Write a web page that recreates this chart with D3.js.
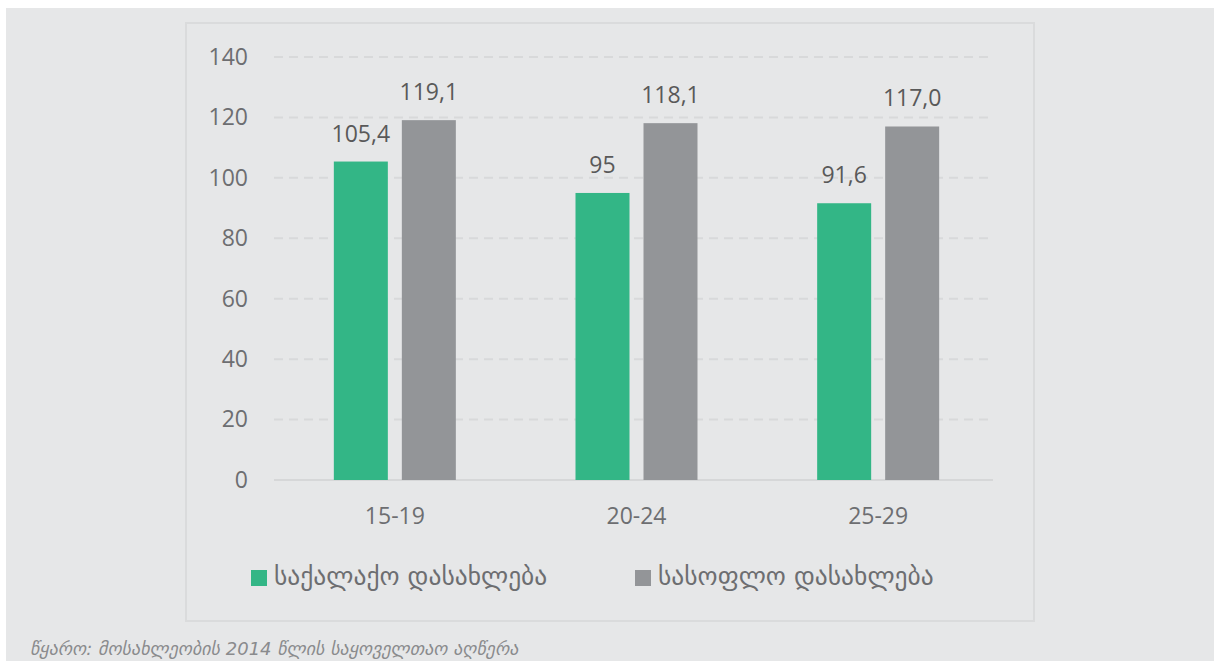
<!DOCTYPE html>
<html>
<head>
<meta charset="utf-8">
<script src="https://d3js.org/d3.v7.min.js"></script>
<style>
  html, body { margin: 0; padding: 0; background: #ffffff; }
  svg { display: block; }
</style>
</head>
<body>
<script>
// age groups and the two settlement series
const categories = ['15-19', '20-24', '25-29'];
const seriesNames = ['საქალაქო დასახლება', 'სასოფლო დასახლება'];
const urban = [105.4, 95, 91.6];
const rural = [119.1, 118.1, 117.0];
const urbanLabels = ['105,4', '95', '91,6'];
const ruralLabels = ['119,1', '118,1', '117,0'];
const yTicks = [0, 20, 40, 60, 80, 100, 120, 140];
const sourceNote = 'წყარო: მოსახლეობის 2014 წლის საყოველთაო აღწერა';

const W = 1214, H = 661;
const colors = ['#33b686', '#939598'];
const font = "'Open Sans', 'DejaVu Sans', sans-serif";

const svg = d3.select('body').append('svg')
  .attr('width', W)
  .attr('height', H);

// page background + chart panel
svg.append('rect').attr('x', 6).attr('y', 8).attr('width', W - 6).attr('height', H - 8)
  .attr('fill', '#e6e7e8');
svg.append('rect').attr('x', 186).attr('y', 23).attr('width', 848).attr('height', 598)
  .attr('fill', '#e6e7e8').attr('stroke', '#dadbdc').attr('stroke-width', 2);

const plot = { left: 274, right: 999, top: 57, bottom: 480 };

const x = d3.scaleBand().domain(categories).range([plot.left, plot.right]).padding(0);
const y = d3.scaleLinear().domain([0, 140]).range([plot.bottom, plot.top]);

// dashed gridlines
svg.append('g')
  .selectAll('line')
  .data(yTicks.filter(d => d > 0))
  .join('line')
  .attr('x1', plot.left).attr('x2', plot.right - 6)
  .attr('y1', d => y(d)).attr('y2', d => y(d))
  .attr('stroke', '#d8d9da').attr('stroke-width', 2)
  .attr('stroke-dasharray', '9,6');

// baseline
svg.append('line')
  .attr('x1', plot.left).attr('x2', plot.right - 6)
  .attr('y1', y(0)).attr('y2', y(0))
  .attr('stroke', '#d6d7d8').attr('stroke-width', 2);

// y axis labels
const yAxis = d3.axisLeft(y).tickValues(yTicks).tickSize(0).tickPadding(0);
svg.append('g')
  .attr('transform', `translate(${248},0)`)
  .call(yAxis)
  .call(g => g.select('.domain').remove())
  .call(g => g.selectAll('text')
    .attr('font-family', font).attr('font-size', 23).attr('fill', '#6d6e71'));

// x axis labels
const xAxis = d3.axisBottom(x).tickSize(0).tickPadding(0);
svg.append('g')
  .attr('transform', `translate(0,${508})`)
  .call(xAxis)
  .call(g => g.select('.domain').remove())
  .call(g => g.selectAll('text')
    .attr('font-family', font).attr('font-size', 23).attr('fill', '#6d6e71'));

// bars
const barW = 54, gap = 14;
const inner = d3.scaleOrdinal().domain([0, 1]).range([-(gap / 2 + barW), gap / 2]);
const series = [
  { values: urban, labels: urbanLabels },
  { values: rural, labels: ruralLabels }
];

series.forEach((s, si) => {
  const g = svg.append('g');
  g.selectAll('rect')
    .data(categories)
    .join('rect')
    .attr('x', (c, i) => x(c) + x.bandwidth() / 2 + inner(si))
    .attr('y', (c, i) => y(s.values[i]))
    .attr('width', barW)
    .attr('height', (c, i) => y(0) - y(s.values[i]))
    .attr('fill', colors[si]);
  g.selectAll('text')
    .data(categories)
    .join('text')
    .attr('x', (c, i) => x(c) + x.bandwidth() / 2 + inner(si) + barW / 2)
    .attr('y', (c, i) => y(s.values[i]) - 20)
    .attr('text-anchor', 'middle')
    .attr('font-family', font).attr('font-size', 23)
    .attr('fill', '#595959')
    .text((c, i) => s.labels[i]);
});

// legend
const legendX = [251, 635];
const legend = svg.append('g');
seriesNames.forEach((name, i) => {
  legend.append('rect')
    .attr('x', legendX[i]).attr('y', 570)
    .attr('width', 16).attr('height', 16)
    .attr('fill', colors[i]);
  legend.append('text')
    .attr('x', legendX[i] + 23).attr('y', 585)
    .attr('font-family', "'DejaVu Sans', sans-serif").attr('font-size', 25.5)
    .attr('fill', '#6d6e71')
    .text(name);
});

// source note
svg.append('text')
  .attr('x', 30).attr('y', 655)
  .attr('font-family', "'DejaVu Sans', sans-serif").attr('font-size', 18)
  .attr('font-style', 'italic')
  .attr('fill', '#8a8b8d')
  .text(sourceNote);
</script>
</body>
</html>
